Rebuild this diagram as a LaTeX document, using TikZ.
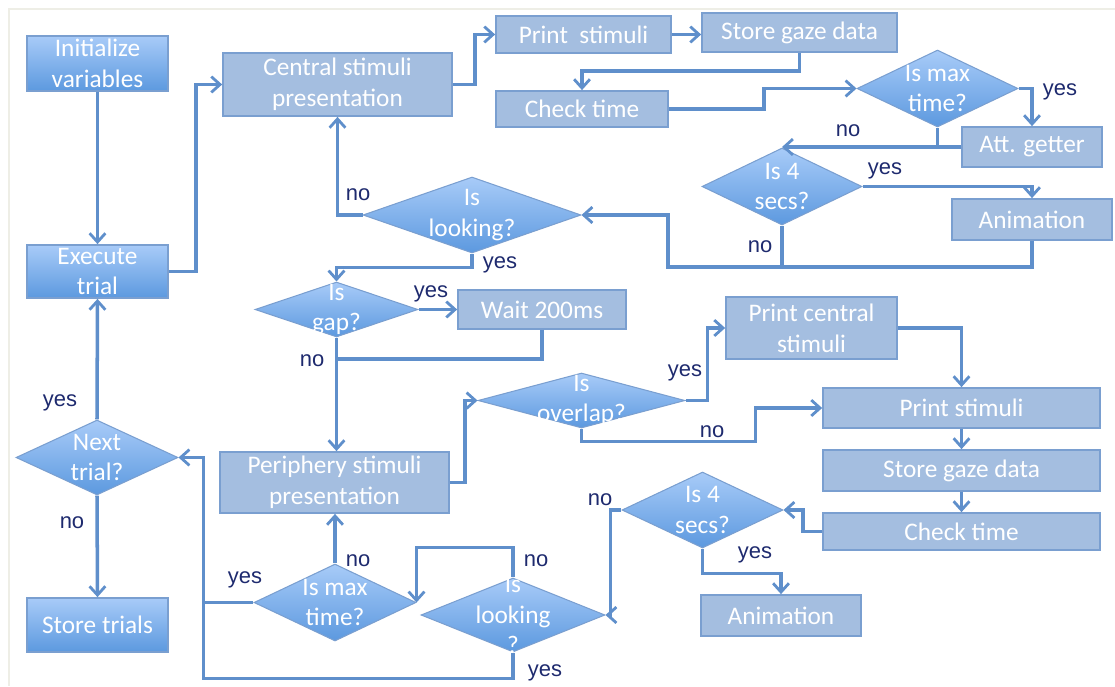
\documentclass[tikz,border=0pt]{standalone}
\usepackage{fontspec}
\setmainfont{Carlito}
\newfontfamily\labelfont{Liberation Sans}
\usetikzlibrary{shapes.geometric,arrows.meta}

\definecolor{flatfill}{HTML}{A4BEE0}
\definecolor{flatedge}{HTML}{7A9FD0}
\definecolor{gradtop}{HTML}{A8CBF8}
\definecolor{gradbot}{HTML}{5C99DF}
\definecolor{flowline}{HTML}{5F8FCB}
\definecolor{navy}{HTML}{1E2A6E}
\definecolor{framegray}{HTML}{EEEEE6}

\tikzset{
  procbox/.style={draw=flatedge, line width=1pt, fill=flatfill, text=white, align=center,
    inner sep=0pt, font=\fontsize{14.4}{17.5}\selectfont},
  startbox/.style={draw=flatedge, line width=1pt, top color=gradtop, bottom color=gradbot,
    text=white, align=center, inner sep=0pt, font=\fontsize{14.4}{17.5}\selectfont},
  decision/.style={diamond, draw=flatedge, line width=0.6pt, top color=gradtop, bottom color=gradbot,
    inner sep=0pt},
  dtext/.style={text=white, align=center, font=\fontsize{14.4}{17.5}\selectfont},
  answer/.style={text=navy, font=\labelfont\fontsize{12.5}{14}\selectfont, inner sep=0pt},
  line/.style={draw=flowline, line width=2pt},
  flow/.style={line, -{Straight Barb[length=5pt,width=9pt,line width=1.6pt]}}
}

\begin{document}
\begin{tikzpicture}[x=0.02cm, y=-0.02cm]
\useasboundingbox (0,0) rectangle (1115,686);
% faint frame
\draw[framegray, line width=1pt] (9,686) -- (9,9) -- (1115,9);

% left column
\node[startbox, minimum width=2.82cm, minimum height=1.10cm] (init) at (97.5,63.5) {Initialize\\variables};
\node[startbox, minimum width=2.82cm, minimum height=1.06cm] (exec) at (97.5,271.5) {Execute\\trial};
\node[decision, minimum width=3.24cm, minimum height=1.50cm, label={[dtext]center:Next\\trial?}] (next) at (97,457.5) {};
\node[startbox, minimum width=2.82cm, minimum height=1.08cm] (store) at (97.5,625) {Store trials};

% central stimuli part
\node[procbox, minimum width=4.58cm, minimum height=1.26cm] (central) at (337.5,84.5) {Central stimuli\\presentation};
\node[procbox, minimum width=3.50cm, minimum height=0.74cm] (printA) at (583.5,34.5) {Print~ stimuli};
\node[procbox, minimum width=3.90cm, minimum height=0.78cm] (storeA) at (799.5,32.5) {Store gaze data};
\node[procbox, minimum width=3.44cm, minimum height=0.72cm] (checkA) at (582,109) {Check time};
\node[decision, minimum width=3.22cm, minimum height=1.54cm, label={[dtext]center:Is max\\time?}] (maxA) at (937.5,88.5) {};
\node[procbox, minimum width=2.80cm, minimum height=0.80cm] (attget) at (1032,147) {Att. getter};
\node[decision, minimum width=3.20cm, minimum height=1.54cm, label={[dtext]center:Is 4\\secs?}] (fourA) at (782,186.5) {};
\node[procbox, minimum width=3.20cm, minimum height=0.82cm] (animA) at (1032,219.5) {Animation};
\node[decision, minimum width=4.36cm, minimum height=1.52cm, label={[dtext]center:Is\\looking?}] (lookA) at (472,215) {};

% periphery stimuli part
\node[decision, minimum width=3.26cm, minimum height=1.10cm, label={[dtext]center:Is\\gap?}] (gap) at (336.5,309.5) {};
\node[procbox, minimum width=3.36cm, minimum height=0.78cm] (wait) at (542,309.5) {Wait 200ms};
\node[procbox, minimum width=4.58cm, minimum height=1.22cm] (periph) at (334.5,482.5) {Periphery stimuli\\presentation};
\node[decision, minimum width=4.14cm, minimum height=1.10cm, label={[dtext]center:Is\\overlap?}] (overlap) at (581.5,400.5) {};
\node[procbox, minimum width=3.42cm, minimum height=1.24cm] (printc) at (811.5,328) {Print central\\stimuli};
\node[procbox, minimum width=5.54cm, minimum height=0.80cm] (printB) at (961.5,408) {Print stimuli};
\node[procbox, minimum width=5.54cm, minimum height=0.82cm] (storeB) at (961.5,470.5) {Store gaze data};
\node[procbox, minimum width=5.54cm, minimum height=0.74cm] (checkB) at (961.5,531.5) {Check time};
\node[decision, minimum width=3.22cm, minimum height=1.52cm, label={[dtext]center:Is 4\\secs?}] (fourB) at (702.5,510) {};
\node[procbox, minimum width=3.20cm, minimum height=0.82cm] (animB) at (781,615.5) {Animation};
\node[decision, minimum width=3.68cm, minimum height=1.48cm, label={[dtext]center:Is\\looking\\?}] (lookB) at (513,615) {};
\node[decision, minimum width=3.24cm, minimum height=1.54cm, label={[dtext]center:Is max\\time?}] (maxB) at (335,602.5) {};

% connectors, top half
\draw[flow] (init) -- (exec);
\draw[flow] (exec.east) -- ++(27,0) |- (central.west);
\draw[flow] (central.east) -- ++(22,0) |- (printA.west);
\draw[flow] (printA.east) -- (printA.east -| storeA.west);
\draw[flow] (storeA.south) -- ++(0,18) -| (checkA.north);
\draw[flow] (checkA.east) -- ++(95,0) |- (maxA.west);
\draw[flow] (maxA.east) -| (attget.north);
\draw[line] (maxA.south) -- (maxA.south |- attget.west);
\draw[flow] (attget.west) -- (attget.west -| fourA.north);
\draw[flow] (fourA.east) -| (animA.north);
\coordinate (loopA) at (668,267);
\draw[flow] (fourA.south) |- (loopA) |- (lookA.east);
\draw[line] (animA.south) |- (loopA);
\draw[flow] (lookA.west) -| (central.south);
\draw[flow] (lookA.south) -- ++(0,14) -| (gap.north);

% connectors, bottom half
\draw[flow] (gap.east) -- (wait.west);
\draw[flow] (gap.south) -- (gap.south |- periph.north);
\draw[line] (wait.south) -- ++(0,29) -- ++(-205.5,0);
\draw[flow] (periph.east) -- ++(15,0) |- (overlap.west);
\draw[flow] (overlap.east) -- ++(22,0) |- (printc.west);
\draw[flow] (printc.east) -| (printB.north);
\draw[flow] (overlap.south) -- ++(0,13) -- ++(174,0) |- (printB.west);
\draw[flow] (printB) -- (storeB);
\draw[flow] (storeB) -- (checkB);
\draw[flow] (checkB.west) -- ++(-19,0) |- (fourB.east);
\draw[flow] (fourB.south) -- ++(0,25) -| (animB.north);
\draw[flow] (fourB.west) -- ++(-11,0) |- (lookB.east);
\draw[flow] (lookB.north) -- ++(0,-30) -| (maxB.east);
\draw[flow] (maxB.north) -- (maxB.north |- periph.south);
\draw[flow] (maxB.west) -- ++(-50,0) coordinate (jB) |- (next.east);
\draw[line] (lookB.south) -- ++(0,26) -| (jB);
\draw[flow] (next.north) -- (exec.south);
\draw[flow] (next.south) -- (store.north);

% yes / no
\node[answer] (yesMaxA) at (1060,92) {yes};
\node[answer] (noMaxA) at (848,131) {no};
\node[answer] (yesFourA) at (885,171) {yes};
\node[answer] (noFourA) at (760,247) {no};
\node[answer] (noLookA) at (358,195) {no};
\node[answer] (yesLookA) at (500,265) {yes};
\node[answer] (yesGap) at (431,294) {yes};
\node[answer] (noGap) at (312,361) {no};
\node[answer] (yesOverlap) at (685,373) {yes};
\node[answer] (noOverlap) at (712,432) {no};
\node[answer] (noFourB) at (600,500) {no};
\node[answer] (yesFourB) at (755,555) {yes};
\node[answer] (noLookB) at (536,561) {no};
\node[answer] (noMaxB) at (358,561) {no};
\node[answer] (yesMaxB) at (245,580) {yes};
\node[answer] (yesLookB) at (545,673) {yes};
\node[answer] (yesNext) at (60,403) {yes};
\node[answer] (noNext) at (72,523) {no};
\end{tikzpicture}
\end{document}
